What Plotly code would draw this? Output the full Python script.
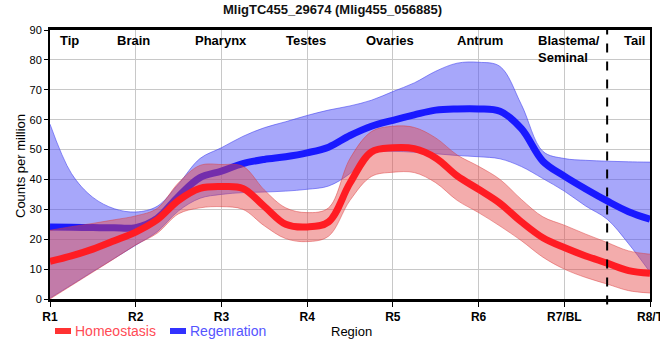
import plotly.graph_objects as go

# ---- data ----
region_pos = [1, 2, 3, 4, 5, 6, 7, 8]
region_ticks = ["R1", "R2", "R3", "R4", "R5", "R6", "R7/BL", "R8/T"]

tissue_names = ["Tip", "Brain", "Pharynx", "Testes", "Ovaries", "Antrum", "Blastema/<br>Seminal", "Tail"]
tissue_pos = [1.23, 1.97, 3.0, 3.99, 4.97, 6.02, 6.665, 7.82]

x_pos = [1.0, 1.25, 1.5, 1.75, 2.0, 2.25, 2.5, 2.75, 3.0, 3.25, 3.5, 3.75, 4.0, 4.25, 4.5,
         4.75, 5.0, 5.25, 5.5, 5.75, 6.0, 6.25, 6.5, 6.75, 7.0, 7.25, 7.5, 7.75, 8.0]

homeo_mean = [12.6, 14.4, 16.7, 19.5, 22.4, 26.5, 33.0, 37.0, 37.6, 37.0, 31.0, 25.0, 24.1, 25.8, 38.8,
              49.2, 50.6, 50.3, 47.2, 41.2, 36.7, 32.0, 25.8, 20.5, 17.2, 14.4, 12.0, 9.5, 8.6]
homeo_upper = [23.0, 24.2, 25.3, 26.5, 27.8, 30.3, 38.9, 44.7, 45.0, 44.4, 36.5, 30.5, 28.9, 30.5, 47.0,
               56.0, 57.8, 57.4, 53.9, 48.2, 44.4, 40.0, 33.3, 27.5, 24.7, 21.7, 18.9, 16.1, 15.0]
homeo_lower = [0.0, 4.5, 9.0, 13.5, 18.1, 22.0, 28.5, 30.5, 30.9, 30.0, 24.5, 20.2, 19.2, 21.0, 33.0,
               41.0, 42.4, 42.3, 38.9, 33.0, 28.9, 24.4, 19.5, 14.0, 10.0, 7.2, 5.0, 2.8, 2.0]

regen_mean = [24.1, 24.0, 23.9, 23.8, 23.9, 27.0, 34.4, 40.6, 42.8, 45.3, 46.7, 47.6, 48.9, 50.8, 54.7,
              57.8, 59.8, 61.6, 63.2, 63.6, 63.6, 62.8, 57.0, 46.1, 41.1, 36.8, 32.8, 29.2, 26.7]
regen_upper = [58.5, 42.0, 34.0, 30.2, 29.1, 31.0, 38.5, 47.0, 50.6, 54.4, 57.3, 59.3, 61.4, 63.2, 64.6,
               66.5, 69.4, 72.3, 76.2, 78.9, 79.2, 77.8, 65.0, 49.4, 47.0, 46.4, 46.1, 45.9, 45.8]
regen_lower = [0.3, 4.7, 9.2, 13.6, 18.0, 22.5, 29.5, 33.7, 35.0, 35.6, 35.8, 36.1, 36.7, 37.8, 42.0,
               48.9, 49.4, 49.1, 48.6, 48.0, 47.6, 46.9, 44.3, 40.3, 36.1, 31.1, 26.7, 18.5, 9.0]

series_names = ["Homeostasis", "Regenration"]
tail_boundary = 7.5

FONT = "Liberation Sans, Arial, sans-serif"

fig = go.Figure()

def band(upper, lower, fill, edge):
    fig.add_trace(go.Scatter(x=x_pos, y=upper, mode="lines", line=dict(color=edge, width=0.8, shape="spline", smoothing=1),
                             showlegend=False, hoverinfo="skip"))
    fig.add_trace(go.Scatter(x=x_pos, y=lower, mode="lines", line=dict(color=edge, width=0.8, shape="spline", smoothing=1),
                             fill="tonexty", fillcolor=fill, showlegend=False, hoverinfo="skip"))

def mean_line(y, color, name):
    fig.add_trace(go.Scatter(x=x_pos, y=y, mode="lines", name=name,
                             line=dict(color=color, width=7, shape="spline", smoothing=1), showlegend=False))

# blue band + line, then red band + line
band(regen_upper, regen_lower, "rgba(80,80,245,0.50)", "rgba(70,70,240,0.75)")
mean_line(regen_mean, "rgb(25,25,255)", series_names[1])
band(homeo_upper, homeo_lower, "rgba(228,70,70,0.45)", "rgba(220,60,60,0.6)")
mean_line(homeo_mean, "rgb(255,28,35)", series_names[0])

annotations = []
for name, xp in zip(tissue_names, tissue_pos):
    left = "Blastema" in name
    annotations.append(dict(x=xp, y=1, xref="x", yref="paper", yanchor="top",
                            xanchor="left" if left else "center", align="left",
                            yshift=-1, text="<b>" + name + "</b>", showarrow=False,
                            font=dict(family=FONT, size=13, color="black")))

def px_x(px):
    return (px - 50) / 600.0

def px_y(py):
    return (299 - py) / 269.0

# title
annotations.append(dict(x=px_x(332), y=px_y(10), xref="paper", yref="paper", xanchor="center", yanchor="middle",
                        text="<b>MligTC455_29674 (Mlig455_056885)</b>", showarrow=False,
                        font=dict(family=FONT, size=13, color="#111111")))
# y title
annotations.append(dict(x=px_x(20), y=px_y(166), xref="paper", yref="paper", xanchor="center", yanchor="middle",
                        text="Counts per million", textangle=-90, showarrow=False,
                        font=dict(family=FONT, size=13, color="black")))
# x title
annotations.append(dict(x=px_x(351), y=px_y(331), xref="paper", yref="paper", xanchor="center", yanchor="middle",
                        text="Region", showarrow=False, font=dict(family=FONT, size=13, color="black")))
# legend
annotations.append(dict(x=px_x(73), y=px_y(331), xref="paper", yref="paper", xanchor="left", yanchor="middle",
                        text=series_names[0], showarrow=False, font=dict(family=FONT, size=14, color="rgb(255,75,85)")))
annotations.append(dict(x=px_x(188), y=px_y(331), xref="paper", yref="paper", xanchor="left", yanchor="middle",
                        text=series_names[1], showarrow=False, font=dict(family=FONT, size=14, color="rgb(85,85,255)")))

shapes = [
    dict(type="line", x0=tail_boundary, x1=tail_boundary, xref="x", yref="paper", y0=-0.02, y1=1,
         line=dict(color="black", width=2, dash="dash")),
    dict(type="rect", xref="paper", yref="paper", x0=px_x(55), x1=px_x(71), y0=px_y(334), y1=px_y(328),
         fillcolor="rgb(255,50,50)", line=dict(width=0)),
    dict(type="rect", xref="paper", yref="paper", x0=px_x(170), x1=px_x(186), y0=px_y(334), y1=px_y(328),
         fillcolor="rgb(50,50,255)", line=dict(width=0)),
]

fig.update_layout(
    width=660, height=360,
    margin=dict(l=50, r=10, t=30, b=61, autoexpand=False),
    paper_bgcolor="white", plot_bgcolor="white",
    showlegend=False,
    annotations=annotations, shapes=shapes,
    font=dict(family=FONT, color="black"),
)
fig.update_xaxes(range=[1, 8], tickvals=region_pos, ticktext=["<b>" + t + "</b>" for t in region_ticks],
                 tickfont=dict(family=FONT, size=12, color="black"),
                 showgrid=True, gridcolor="#c8c8c8", gridwidth=1,
                 showline=True, linecolor="black", linewidth=2.5, mirror=True,
                 ticks="outside", ticklen=5, tickcolor="black", tickwidth=1, zeroline=False,
                 automargin=False, ticklabeloverflow="allow")
fig.update_yaxes(range=[0, 90], dtick=10, tickfont=dict(family=FONT, size=11, color="black"),
                 showgrid=True, gridcolor="#c8c8c8", gridwidth=1,
                 showline=True, linecolor="black", linewidth=2, mirror=True,
                 ticks="outside", ticklen=4, tickcolor="black", tickwidth=1, zeroline=False,
                 automargin=False)

fig.write_html("out.html", config={"displayModeBar": False},
               post_script="document.body.style.margin='0';document.body.style.padding='0';")
